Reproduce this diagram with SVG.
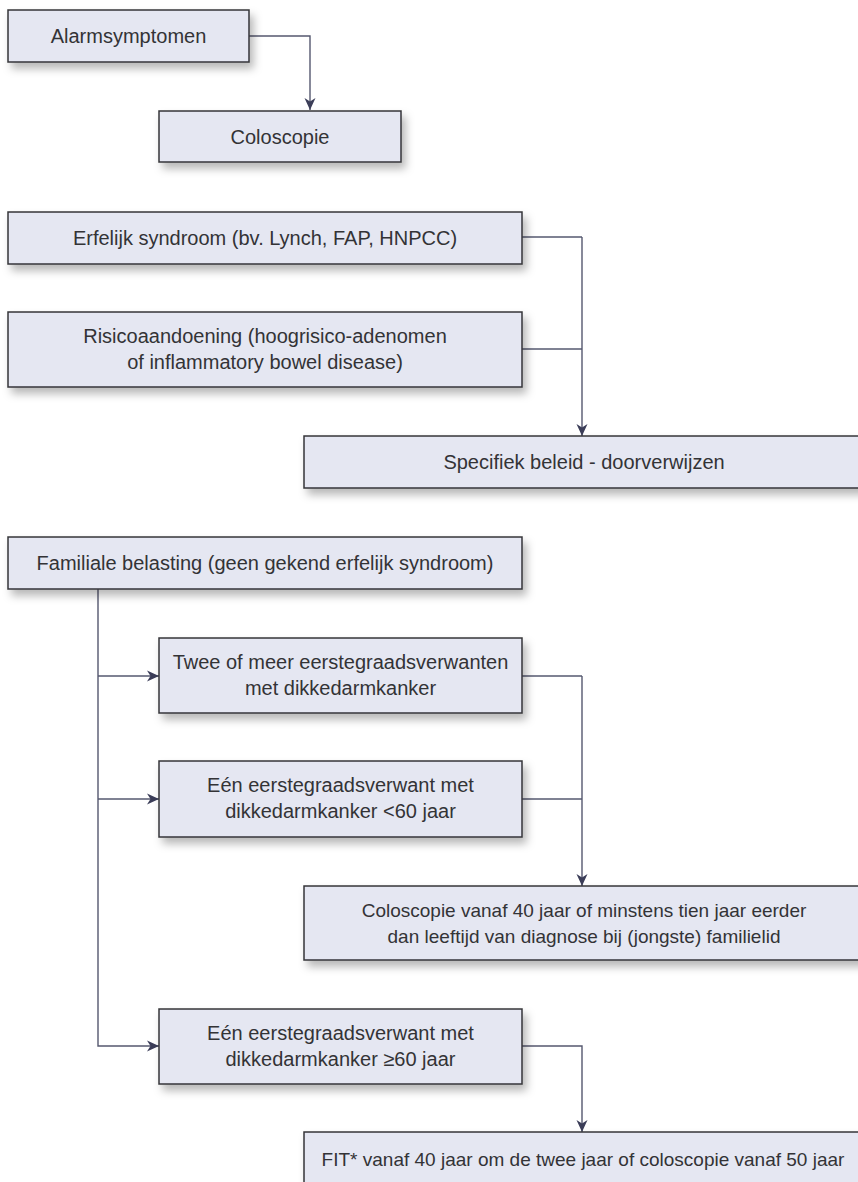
<svg xmlns="http://www.w3.org/2000/svg" width="858" height="1182" viewBox="0 0 858 1182">
<style>
.box{fill:#e5e7f2;stroke:#343438;stroke-width:1.5;filter:url(#sh)}
.t{font-family:"Liberation Sans",Arial,sans-serif;font-size:20px;fill:#333336;text-anchor:middle}
.s{font-size:19px}
.c{fill:none;stroke:#55586f;stroke-width:1.4;marker-end:url(#ah)}
.n{fill:none;stroke:#55586f;stroke-width:1.4}
</style>
<defs>
<filter id="sh" x="-10%" y="-30%" width="130%" height="170%">
<feDropShadow dx="4" dy="6" stdDeviation="4" flood-color="#000" flood-opacity="0.28"/>
</filter>
<marker id="ah" markerUnits="userSpaceOnUse" markerWidth="14" markerHeight="12" refX="12" refY="6" orient="auto">
<path d="M0,0.5 L12,6 L0,11.5 L3.5,6 Z" fill="#3b3d58"/>
</marker>
</defs>
<rect width="858" height="1182" fill="#fff"/>
<g id="connectors">
<path class="c" d="M249,36 H310 V110"/>
<path class="n" d="M522,237 H582"/>
<path class="n" d="M522,349 H582"/>
<path class="c" d="M582,237 V436"/>
<path class="c" d="M98,589 V1046 H159"/>
<path class="c" d="M98,676 H159"/>
<path class="c" d="M98,799 H159"/>
<path class="n" d="M522,676 H582"/>
<path class="n" d="M522,799 H582"/>
<path class="c" d="M582,676 V886"/>
<path class="c" d="M522,1046 H582 V1132"/>
</g>
<g id="alarmsymptomen">
<rect class="box" x="8" y="10" width="241" height="52"/>
<text class="t" x="128.5" y="43">Alarmsymptomen</text>
</g>
<g id="coloscopie">
<rect class="box" x="159" y="111" width="242" height="51"/>
<text class="t" x="280" y="144">Coloscopie</text>
</g>
<g id="erfelijk">
<rect class="box" x="8" y="212" width="514" height="52"/>
<text class="t" x="265" y="245">Erfelijk syndroom (bv. Lynch, FAP, HNPCC)</text>
</g>
<g id="risico">
<rect class="box" x="8" y="312" width="514" height="75"/>
<text class="t" x="265" y="343">Risicoaandoening (hoogrisico-adenomen</text>
<text class="t" x="265" y="369">of inflammatory bowel disease)</text>
</g>
<g id="specifiek">
<rect class="box" x="304" y="436" width="560" height="52"/>
<text class="t" x="584" y="469">Specifiek beleid - doorverwijzen</text>
</g>
<g id="familiale">
<rect class="box" x="8" y="537" width="514" height="52"/>
<text class="t" x="265" y="570">Familiale belasting (geen gekend erfelijk syndroom)</text>
</g>
<g id="twee">
<rect class="box" x="159" y="638" width="363" height="75"/>
<text class="t" x="340.5" y="669">Twee of meer eerstegraadsverwanten</text>
<text class="t" x="340.5" y="695">met dikkedarmkanker</text>
</g>
<g id="een-jong">
<rect class="box" x="159" y="761" width="363" height="76"/>
<text class="t" x="340.5" y="792">Eén eerstegraadsverwant met</text>
<text class="t" x="340.5" y="818">dikkedarmkanker &lt;60 jaar</text>
</g>
<g id="coloscopie-40">
<rect class="box" x="304" y="886" width="560" height="74"/>
<text class="t s" x="584" y="917">Coloscopie vanaf 40 jaar of minstens tien jaar eerder</text>
<text class="t s" x="584" y="943">dan leeftijd van diagnose bij (jongste) familielid</text>
</g>
<g id="een-oud">
<rect class="box" x="159" y="1009" width="363" height="75"/>
<text class="t" x="340.5" y="1040">Eén eerstegraadsverwant met</text>
<text class="t" x="340.5" y="1066">dikkedarmkanker ≥60 jaar</text>
</g>
<g id="fit">
<rect class="box" x="304" y="1132" width="560" height="60"/>
<text class="t s" x="583" y="1166">FIT* vanaf 40 jaar om de twee jaar of coloscopie vanaf 50 jaar</text>
</g>
</svg>
